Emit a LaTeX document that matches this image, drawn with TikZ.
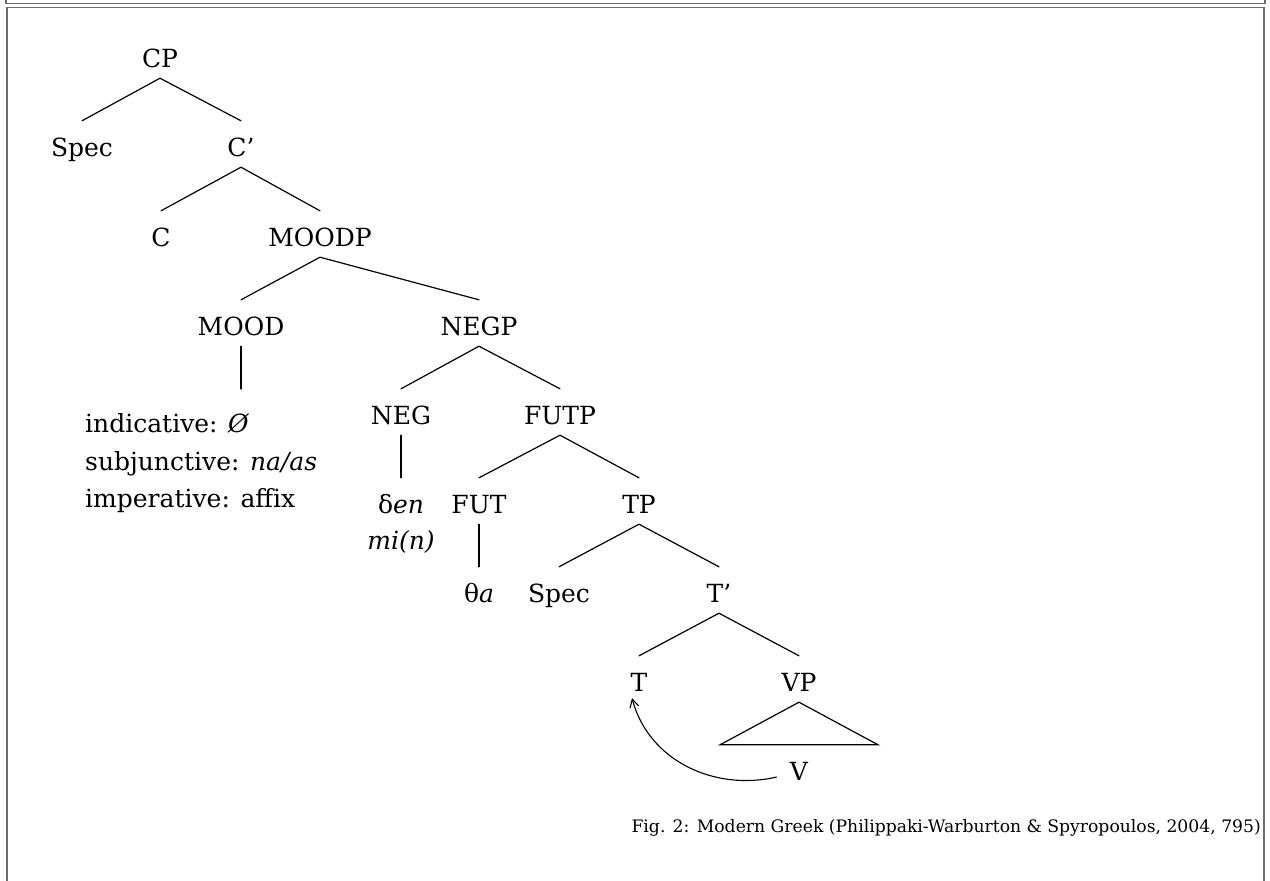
\documentclass[tikz,border=0pt]{standalone}
\usepackage{fontspec}
\setmainfont{DejaVu Serif}
\usetikzlibrary{arrows.meta,calc}
\begin{document}
\begin{tikzpicture}[x=1pt,y=-1pt,
  font=\fontsize{25}{30}\selectfont,
  tn/.style={anchor=base, inner xsep=0pt, inner ysep=0pt, text height=35pt, text depth=11pt},
  leaf/.style={anchor=base west, inner sep=0pt},
  branch/.style={line width=1.2pt, line cap=round},
  frame/.style={line width=1.8pt, draw=black!58},
  move/.style={line width=1.1pt, -{Straight Barb[length=8pt,width=9pt,line width=1.1pt]}}]
\useasboundingbox (0,0) rectangle (1270,881);

% page frames
\draw[frame] (6,-2) -- (6,3.5) -- (1265,3.5) -- (1265,-2);
\draw[frame] (7,890) -- (7,7.5) -- (1264,7.5) -- (1264,890);

% tree nodes
\node[tn] (CP)    at (160,67)  {CP};
\node[tn] (SpecA) at (82,156)  {Spec};
\node[tn] (Cbar)  at (241,156) {C’};
\node[tn] (C)     at (161,246) {C};
\node[tn] (MOODP) at (320,246) {MOODP};
\node[tn] (MOOD)  at (241,335) {MOOD};
\node[tn] (NEGP)  at (479,335) {NEGP};
\node[tn] (NEG)   at (401,424) {NEG};
\node[tn] (FUTP)  at (560,424) {FUTP};
\node[tn] (FUT)   at (479,513) {FUT};
\node[tn] (TP)    at (639,513) {TP};
\node[tn] (den)   at (401,513) {δ\textit{en}};
\node[tn] (min)   at (401,549) {\textit{mi(n)}};
\node[tn] (theta) at (479,602) {θ\textit{a}};
\node[tn] (SpecB) at (559,602) {Spec};
\node[tn] (Tbar)  at (719,602) {T’};
\node[tn] (T)     at (639,691) {T};
\node[tn] (VP)    at (799,691) {VP};
\node[tn] (V)     at (799,780) {V};

% mood realisations
\node[leaf] (ind1) at (85,432) {indicative: \textit{Ø}};
\node[leaf] (ind2) at (85,470) {subjunctive: \textit{na/as}};
\node[leaf] (ind3) at (85,507) {imperative: affix};
\coordinate (moodend) at (241,389);

% branches
\draw[branch] (SpecA.north) -- (CP.south) -- (Cbar.north);
\draw[branch] (C.north) -- (Cbar.south) -- (MOODP.north);
\draw[branch] (MOOD.north) -- (MOODP.south) -- (NEGP.north);
\draw[branch] (NEG.north) -- (NEGP.south) -- (FUTP.north);
\draw[branch] (FUT.north) -- (FUTP.south) -- (TP.north);
\draw[branch] (SpecB.north) -- (TP.south) -- (Tbar.north);
\draw[branch] (T.north) -- (Tbar.south) -- (VP.north);
\draw[branch] (MOOD.south) -- (moodend);
\draw[branch] (NEG.south) -- (den.north);
\draw[branch] (FUT.south) -- (theta.north);

% VP triangle
\draw[branch, line join=miter] (VP.south) -- ($(V.north)+(-79,0)$) -- ($(V.north)+(79,0)$) -- cycle;

% head movement V to T
\draw[move] ($(V.base west)+(-13,-3)$) to[out=193, in=-75] ($(T.south)+(-7,-4)$);

% caption
\node[anchor=base east, inner sep=0pt, font=\fontsize{17.2}{21}\selectfont] (cap) at (1261,832)
  {Fig. 2: Modern Greek (Philippaki-Warburton \& Spyropoulos, 2004, 795)};
\end{tikzpicture}
\end{document}
